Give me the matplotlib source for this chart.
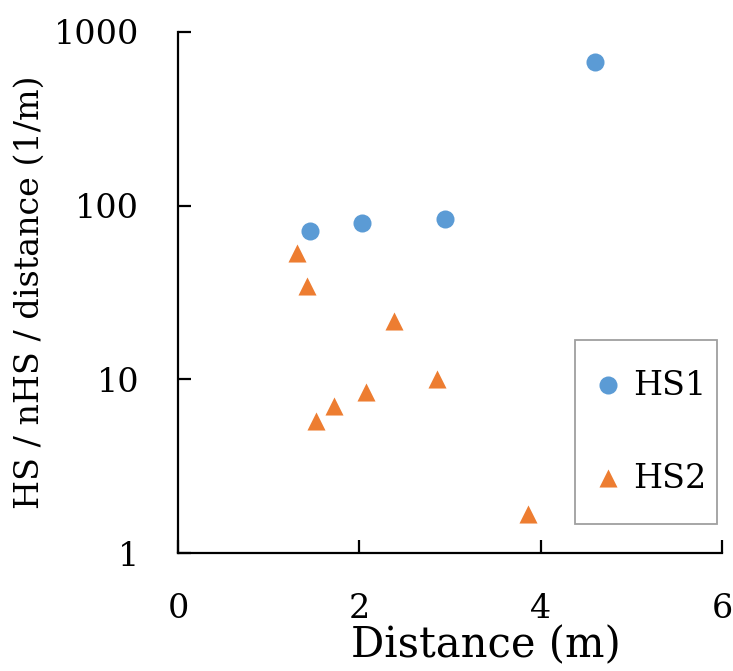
import matplotlib.pyplot as plt
from matplotlib.ticker import FixedLocator, FixedFormatter, NullLocator

# HS1 / HS2 values per distance
hs1_dist = [1.46, 2.03, 2.94, 4.60]
hs1_vals = [71.5, 79.8, 84.0, 671.0]
hs2_dist = [1.31, 1.42, 1.52, 1.72, 2.07, 2.38, 2.86, 3.86]
hs2_vals = [53.7, 34.5, 5.75, 7.0, 8.5, 21.8, 10.0, 1.68]

x_ticks = [0, 2, 4, 6]
y_ticks = [1, 10, 100, 1000]
y_tick_labels = ["1", "10", "100", "1000"]

plt.rcParams["font.family"] = ["DejaVu Serif"]

fig = plt.figure(figsize=(7.33, 6.71), dpi=100)
ax = fig.add_axes([178 / 733, 1 - 553 / 671, (722 - 178) / 733, (553 - 32) / 671])

ax.scatter(hs1_dist, hs1_vals, s=169, marker="o", color="#5B9BD5",
           linewidths=0, label="HS1", zorder=3)
ax.scatter(hs2_dist, hs2_vals, s=169, marker="^", color="#ED7D31",
           linewidths=0, label="HS2", zorder=3)

ax.set_yscale("log")
ax.set_xlim(0, 6)
ax.set_ylim(1, 1000)
ax.xaxis.set_major_locator(FixedLocator(x_ticks))
ax.yaxis.set_major_locator(FixedLocator(y_ticks))
ax.yaxis.set_major_formatter(FixedFormatter(y_tick_labels))
ax.yaxis.set_minor_locator(NullLocator())

for side in ("top", "right"):
    ax.spines[side].set_visible(False)
for side in ("left", "bottom"):
    ax.spines[side].set_linewidth(1.6)

ax.tick_params(axis="both", which="major", direction="in", length=9.5,
               width=1.6, labelsize=24)
ax.tick_params(axis="y", pad=28)
ax.tick_params(axis="x", pad=29)

fig.text(486 / 733, 1 - 645 / 671, "Distance (m)", fontsize=30,
         ha="center", va="center")
fig.text(30 / 733, 1 - 292 / 671, "HS / nHS / distance (1/m)", fontsize=24,
         ha="center", va="center", rotation=90)

# tall legend rows give the loose vertical spacing of the legend box
leg = ax.legend(loc="upper left",
                bbox_to_anchor=((575 - 178) / 544, 1 - (340 - 32) / 521),
                borderaxespad=0, fontsize=24, frameon=True, fancybox=False,
                borderpad=0.3, labelspacing=0.66, handlelength=1.4,
                handleheight=2.9, handletextpad=0.05, scatterpoints=1,
                scatteryoffsets=[0.15])
leg.get_frame().set_edgecolor("#888888")
leg.get_frame().set_linewidth(1.3)

fig.savefig("out.png", dpi=100)
